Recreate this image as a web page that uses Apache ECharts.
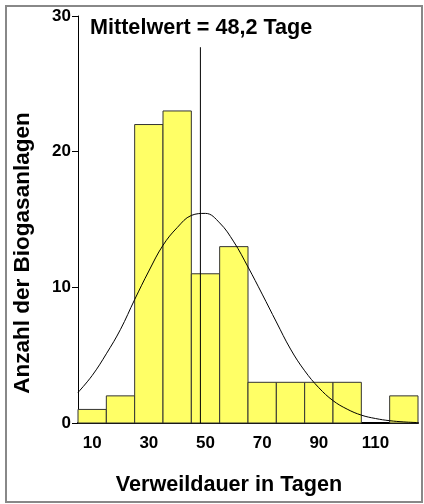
<!DOCTYPE html>
<html><head><meta charset="utf-8">
<script src="https://cdn.jsdelivr.net/npm/echarts@6/dist/echarts.min.js"></script>
<style>html,body{margin:0;padding:0;background:#fff}#c{width:424px;height:504px}</style>
</head><body><div id="c"></div>
<script>
const binCenters = [10, 20, 30, 40, 50, 60, 70, 80, 90, 100, 110, 120];
const binCounts = [1, 2, 22, 23, 11, 13, 3, 3, 3, 3, 0, 2];
const binWidth = 10;
const meanValue = 48.2;
const meanLineTop = 27.7;
const curveX = [5, 10, 15, 20, 25, 30, 35, 40, 45, 50, 55, 60, 65, 70, 75, 80, 85, 90, 95, 100, 105, 110, 115, 120, 125];
const curveY = [2.25, 3.5, 5.1, 6.9, 9.1, 11.2, 13.1, 14.4, 15.3, 15.45, 14.75, 13.35, 11.5, 9.5, 7.45, 5.45, 3.85, 2.6, 1.65, 1.02, 0.58, 0.33, 0.17, 0.08, 0.03];
const xTickLabels = [10, 30, 50, 70, 90, 110];
const yTickLabels = [0, 10, 20, 30];
const titleText = 'Mittelwert = 48,2 Tage';
const xTitle = 'Verweildauer in Tagen';
const yTitle = 'Anzahl der Biogasanlagen';

const FONT = '"Liberation Sans", Arial, sans-serif';
const chart = echarts.init(document.getElementById('c'), null, {renderer: 'canvas'});

const barData = binCenters.map((c, i) => [c, binCounts[i]]);
const curveData = curveX.map((x, i) => [x, curveY[i]]);

chart.setOption({
  animation: false,
  backgroundColor: '#fff',
  grid: {left: 78, right: 6, top: 16, bottom: 81, containLabel: false},
  xAxis: {
    type: 'value', min: 5, max: 125,
    axisLine: {show: true, onZero: false, lineStyle: {color: '#000', width: 2}},
    axisTick: {show: false},
    splitLine: {show: false},
    axisLabel: {customValues: xTickLabels, color: '#000', fontWeight: 'bold', fontSize: 17, fontFamily: FONT, margin: 12}
  },
  yAxis: {
    type: 'value', min: yTickLabels[0], max: yTickLabels[yTickLabels.length - 1], interval: 10,
    axisLine: {show: true, lineStyle: {color: '#000', width: 1}},
    axisTick: {show: true, length: 6, lineStyle: {color: '#000'}},
    splitLine: {show: false},
    axisLabel: {color: '#000', fontWeight: 'bold', fontSize: 17, fontFamily: FONT, margin: 7,
      padding: [3, 0, 0, 0]}
  },
  graphic: [
    {type: 'rect', z: 100, silent: true, shape: {x: 6, y: 6, width: 416, height: 496},
     style: {fill: 'none', stroke: '#888', lineWidth: 2}},
    {type: 'text', z: 100, x: 90, y: 28,
     style: {text: titleText, font: 'bold 21.6px ' + FONT, fill: '#000', align: 'left', verticalAlign: 'middle'}},
    {type: 'text', z: 100, x: 229, y: 485,
     style: {text: xTitle, font: 'bold 21.6px ' + FONT, fill: '#000', align: 'center', verticalAlign: 'middle'}},
    {type: 'text', z: 100, x: 23, y: 253, rotation: Math.PI / 2,
     style: {text: yTitle, font: 'bold 22.5px ' + FONT, fill: '#000', align: 'center', verticalAlign: 'middle'}}
  ],
  series: [
    {
      type: 'custom', z: 2,
      data: barData,
      renderItem: function (params, api) {
        const c = api.value(0), v = api.value(1);
        if (!v) return {type: 'group', children: []};
        const p0 = api.coord([c - binWidth / 2, v]);
        const p1 = api.coord([c + binWidth / 2, 0]);
        return {type: 'rect', shape: {x: p0[0], y: p0[1], width: p1[0] - p0[0], height: p1[1] - p0[1]},
          style: {fill: '#FFFF66', stroke: '#333', lineWidth: 1}};
      }
    },
    {
      type: 'line', z: 3, symbol: 'none',
      data: [[meanValue, 0], [meanValue, meanLineTop]],
      lineStyle: {color: '#000', width: 1}
    },
    {
      type: 'line', z: 4, symbol: 'none', smooth: 0.4,
      data: curveData,
      lineStyle: {color: '#000', width: 1}
    }
  ]
});
</script></body></html>
